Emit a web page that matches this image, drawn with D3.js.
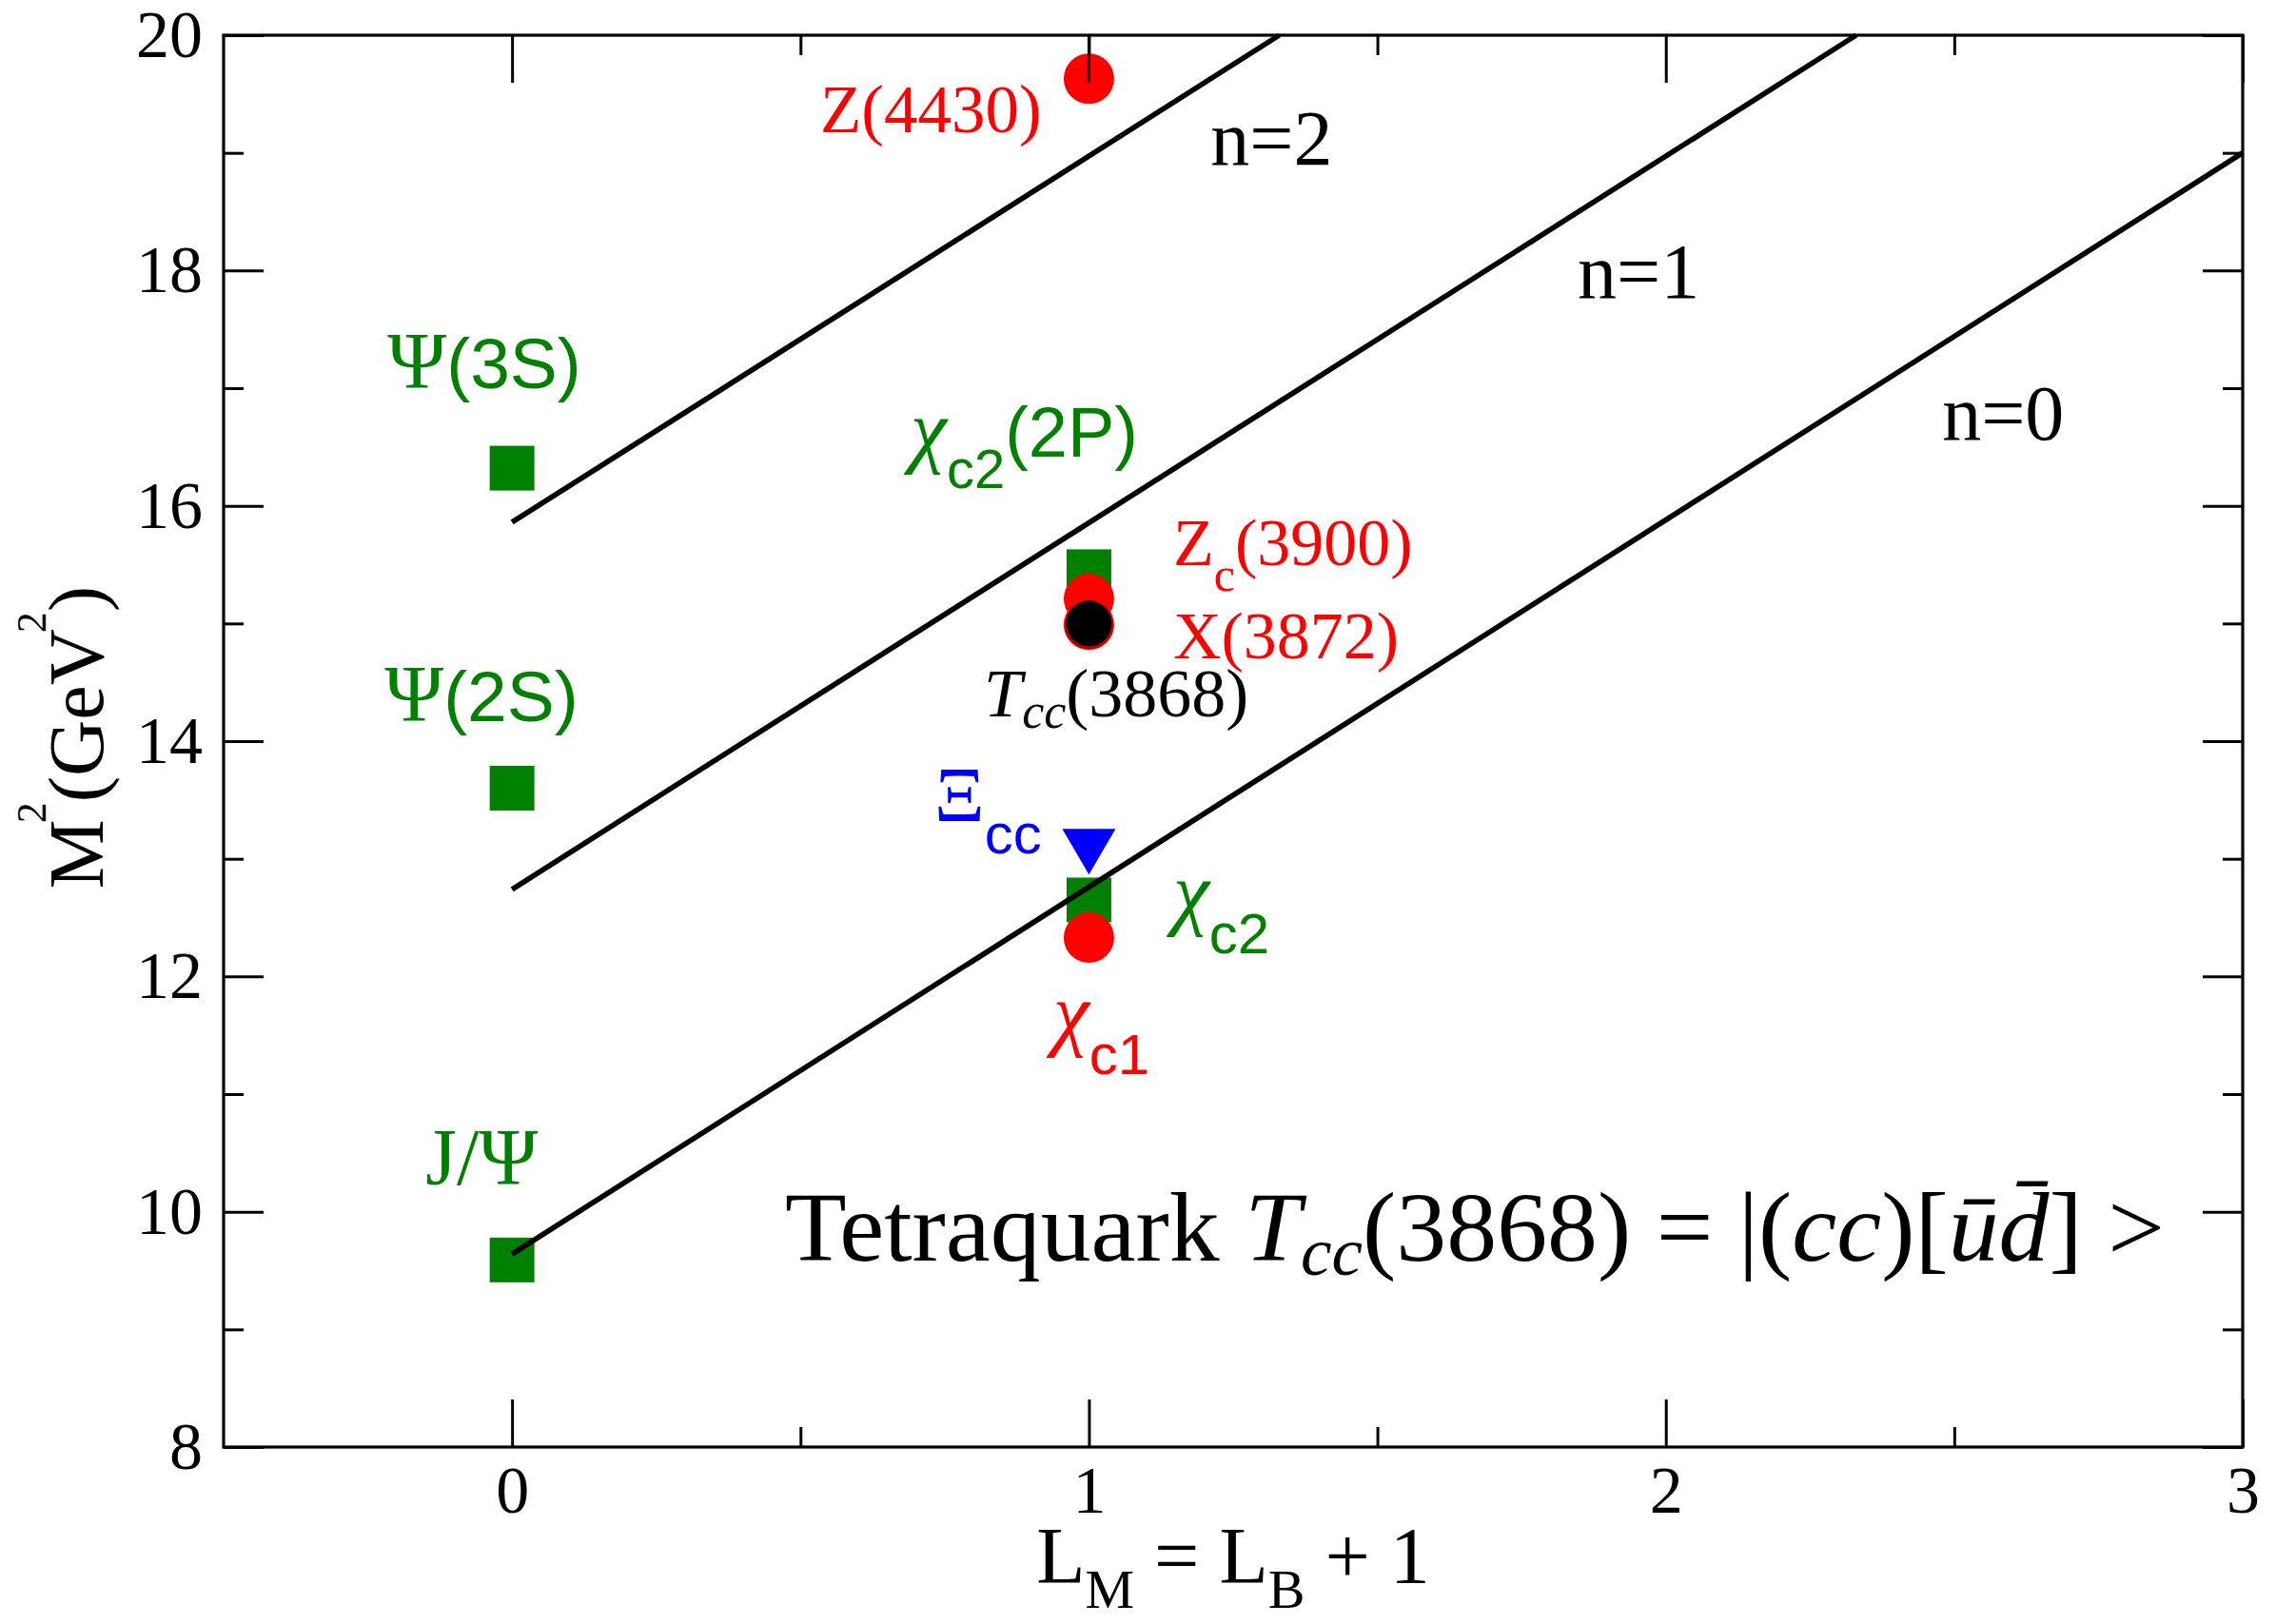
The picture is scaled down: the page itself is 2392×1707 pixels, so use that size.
<!DOCTYPE html>
<html>
<head>
<meta charset="utf-8">
<script src="https://cdn.jsdelivr.net/npm/d3@7/dist/d3.min.js"></script>
<style>
  body { margin: 0; background: #fff; }
  svg text { font-family: "Liberation Serif", "Times New Roman", serif; }
</style>
</head>
<body>
<svg id="viz"></svg>
<script>
// ---- data (M^2 in GeV^2, L_M on x) ----
var squareX = [0, 0, 0, 1, 1];                 // J/Psi, Psi(2S), Psi(3S), chi_c2, chi_c2(2P)
var squareY = [9.59, 13.60, 16.32, 12.65, 15.44];
var redX = [1, 1, 1, 1];                       // chi_c1, X(3872), Zc(3900), Z(4430)
var redY = [12.33, 14.99, 15.21, 19.63];
var tccX = [1];
var tccY = [15.00];
var xiX = [1];
var xiY = [13.06];

var trajName = ['n=0', 'n=1', 'n=2'];
var trajX0 = [0, 0, 0];
var trajY0 = [9.64, 12.74, 15.86];
var trajX1 = [3, 2.33, 1.33];
var trajY1 = [19.0, 20, 20];

var xTicks = [0, 1, 2, 3];
var xMinor = [0.5, 1.5, 2.5];
var yTicks = [8, 10, 12, 14, 16, 18, 20];
var yMinor = [9, 11, 13, 15, 17, 19];

var SERIF = '"Liberation Serif", "Times New Roman", serif';
var SANS = '"Liberation Sans", Arial, sans-serif';
var GREEN = '#008000', RED = '#ff0000', BLUE = '#0000ff';

var width = 2392, height = 1707;
var margin = { top: 37, right: 35, bottom: 186, left: 235 };

var svg = d3.select('#viz').attr('width', width).attr('height', height);

var x = d3.scaleLinear().domain([-0.5, 3]).range([margin.left, width - margin.right]);
var y = d3.scaleLinear().domain([8, 20]).range([height - margin.bottom, margin.top]);

var defs = svg.append('defs');
var f = defs.append('filter').attr('id', 'shadow').attr('x', '-50%').attr('y', '-50%').attr('width', '200%').attr('height', '200%');
f.append('feDropShadow').attr('dx', 0).attr('dy', 3).attr('stdDeviation', 2.5).attr('flood-opacity', 0.45);

var g = svg.append('g');

/****** axes: ticks pointing inward on all four sides ******/
function styleAxis(sel) {
    sel.select('.domain').remove();
    sel.selectAll('.tick line').attr('stroke', '#000').attr('stroke-width', 3);
    sel.selectAll('text').attr('fill', '#000').attr('font-size', 70).attr('font-family', SERIF);
}
var y0 = y.range()[0], y1 = y.range()[1], x0 = x.range()[0], x1 = x.range()[1];

g.append('g').attr('transform', 'translate(0,' + y0 + ')')
    .call(d3.axisBottom(x).tickValues(xTicks).tickSize(-50).tickSizeOuter(0).tickPadding(19).tickFormat(d3.format('d')))
    .call(styleAxis);
g.append('g').attr('transform', 'translate(0,' + y0 + ')')
    .call(d3.axisBottom(x).tickValues(xMinor).tickSize(-21).tickSizeOuter(0).tickFormat(''))
    .call(styleAxis);
g.append('g').attr('transform', 'translate(0,' + y1 + ')')
    .call(d3.axisTop(x).tickValues(xTicks).tickSize(-50).tickSizeOuter(0).tickFormat(''))
    .call(styleAxis);
g.append('g').attr('transform', 'translate(0,' + y1 + ')')
    .call(d3.axisTop(x).tickValues(xMinor).tickSize(-21).tickSizeOuter(0).tickFormat(''))
    .call(styleAxis);
g.append('g').attr('transform', 'translate(' + x0 + ',0)')
    .call(d3.axisLeft(y).tickValues(yTicks).tickSize(-42).tickSizeOuter(0).tickPadding(22).tickFormat(d3.format('d')))
    .call(styleAxis);
g.append('g').attr('transform', 'translate(' + x0 + ',0)')
    .call(d3.axisLeft(y).tickValues(yMinor).tickSize(-21).tickSizeOuter(0).tickFormat(''))
    .call(styleAxis);
g.append('g').attr('transform', 'translate(' + x1 + ',0)')
    .call(d3.axisRight(y).tickValues(yTicks).tickSize(-42).tickSizeOuter(0).tickFormat(''))
    .call(styleAxis);
g.append('g').attr('transform', 'translate(' + x1 + ',0)')
    .call(d3.axisRight(y).tickValues(yMinor).tickSize(-21).tickSizeOuter(0).tickFormat(''))
    .call(styleAxis);

g.append('rect')
    .attr('x', x0).attr('y', y1).attr('width', x1 - x0).attr('height', y0 - y1)
    .attr('fill', 'none').attr('stroke', '#000').attr('stroke-width', 3.2);

/****** markers ******/
var sq = 47, rad = 26.5, triW = 56, triH = 48;

g.selectAll('rect.sq').data(squareX).enter().append('rect')
    .attr('class', 'sq')
    .attr('x', function (d) { return x(d) - sq / 2; })
    .attr('y', function (d, i) { return y(squareY[i]) - sq / 2; })
    .attr('width', sq).attr('height', sq)
    .attr('fill', GREEN);

g.selectAll('circle.red').data(redX).enter().append('circle')
    .attr('class', 'red')
    .attr('cx', function (d) { return x(d); })
    .attr('cy', function (d, i) { return y(redY[i]); })
    .attr('r', rad).attr('fill', RED);

g.selectAll('circle.tcc').data(tccX).enter().append('circle')
    .attr('class', 'tcc')
    .attr('cx', function (d) { return x(d); })
    .attr('cy', function (d, i) { return y(tccY[i]); })
    .attr('r', 24).attr('fill', '#000')
    .attr('filter', 'url(#shadow)');

g.selectAll('path.xi').data(xiX).enter().append('path')
    .attr('class', 'xi')
    .attr('d', function (d, i) {
        var cx = x(d), cy = y(xiY[i]);
        return 'M' + (cx - triW / 2) + ',' + (cy - triH / 2) + 'L' + (cx + triW / 2) + ',' + (cy - triH / 2) +
            'L' + cx + ',' + (cy + triH / 2) + 'Z';
    })
    .attr('fill', BLUE);

/****** Regge trajectories ******/
g.selectAll('line.traj').data(trajName).enter().append('line')
    .attr('class', 'traj')
    .attr('x1', function (d, i) { return x(trajX0[i]); })
    .attr('y1', function (d, i) { return y(trajY0[i]); })
    .attr('x2', function (d, i) { return x(trajX1[i]); })
    .attr('y2', function (d, i) { return y(trajY1[i]); })
    .attr('stroke', '#000').attr('stroke-width', 5.6);

// top x=1 tick sits over the Z(4430) dot in the original
g.append('line')
    .attr('x1', x(1)).attr('x2', x(1)).attr('y1', y1).attr('y2', y1 + 50)
    .attr('stroke', '#000').attr('stroke-width', 3);

/****** labels ******/
// parts: [text, size, font, baseline shift, italic]
function addLabel(xv, yv, color, parts, anchor) {
    var t = g.append('text').attr('x', x(xv)).attr('y', y(yv)).attr('fill', color)
        .attr('text-anchor', anchor || 'start');
    var shift = 0;
    parts.forEach(function (p) {
        var s = t.append('tspan').text(p[0]).attr('font-size', p[1])
            .attr('font-family', p[2] == 's' ? SANS : SERIF);
        var want = p[3] || 0;
        if (want - shift != 0) s.attr('dy', want - shift);
        shift = want;
        if (p[4]) s.attr('font-style', 'italic');
    });
    return t;
}

addLabel(1.211, 18.90, '#000', [['n=2', 82]]);
addLabel(1.847, 17.77, '#000', [['n=1', 82]]);
addLabel(2.479, 16.56, '#000', [['n=0', 82]]);

addLabel(-0.216, 17.00, GREEN, [['Ψ', 84], ['(3S)', 75, 's']]);
addLabel(-0.221, 14.17, GREEN, [['Ψ', 84], ['(2S)', 75, 's']]);
addLabel(-0.150, 10.23, GREEN, [['J/Ψ', 84]]);
addLabel(0.691, 16.42, GREEN, [['χ', 86, null, 0, true], ['c2', 58, 's', 33], ['(2P)', 74, 's', 0]]);
addLabel(1.146, 12.49, GREEN, [['χ', 86, null, 0, true], ['c2', 60, 's', 36]]);

addLabel(0.534, 19.175, RED, [['Z(4430)', 71]]);
addLabel(1.146, 15.50, RED, [['Z', 70], ['c', 50, null, 27], ['(3900)', 70, null, 0]]);
addLabel(1.146, 14.70, RED, [['X(3872)', 70]]);
addLabel(0.938, 11.46, RED, [['χ', 86, null, 0, true], ['c1', 60, 's', 36]]);

addLabel(0.818, 14.21, '#000', [['T', 72, null, 0, true], ['cc', 52, null, 12, true], ['(3868)', 72, null, 0]]);
addLabel(0.732, 13.32, BLUE, [['Ξ', 82], ['cc', 60, 's', 34]]);

var formula = addLabel(0.473, 9.585, '#000', [
    ['Tetraquark ', 104], ['T', 104, null, 0, true], ['cc', 72, null, 15, true],
    ['(3868) = |(', 104, null, 0], ['cc', 104, null, 0, true], [')[', 104, null, 0],
    ['\u016B', 104, null, 0, true], ['d\u0304', 104, null, 0, true], ['] >', 104, null, 0]
]);
formula.attr('textLength', 1450).attr('lengthAdjust', 'spacingAndGlyphs');

/****** axis titles ******/
var xt = svg.append('text').attr('x', 1296).attr('y', 1664).attr('text-anchor', 'middle')
    .attr('font-size', 84).attr('fill', '#000');
xt.append('tspan').text('L');
xt.append('tspan').text('M').attr('font-size', 58).attr('dy', 26);
xt.append('tspan').text(' = L').attr('dy', -26);
xt.append('tspan').text('B').attr('font-size', 58).attr('dy', 26);
xt.append('tspan').text(' + 1').attr('dy', -26);

var yt = svg.append('text').attr('transform', 'translate(108,775) rotate(-90)')
    .attr('text-anchor', 'middle').attr('font-size', 82).attr('fill', '#000');
yt.append('tspan').text('M');
yt.append('tspan').text('2').attr('font-size', 44).attr('dy', -60).attr('dx', -4);
yt.append('tspan').text('(GeV').attr('dy', 60);
yt.append('tspan').text('2').attr('font-size', 44).attr('dy', -60).attr('dx', -4);
yt.append('tspan').text(')').attr('dy', 60);
</script>
</body>
</html>
